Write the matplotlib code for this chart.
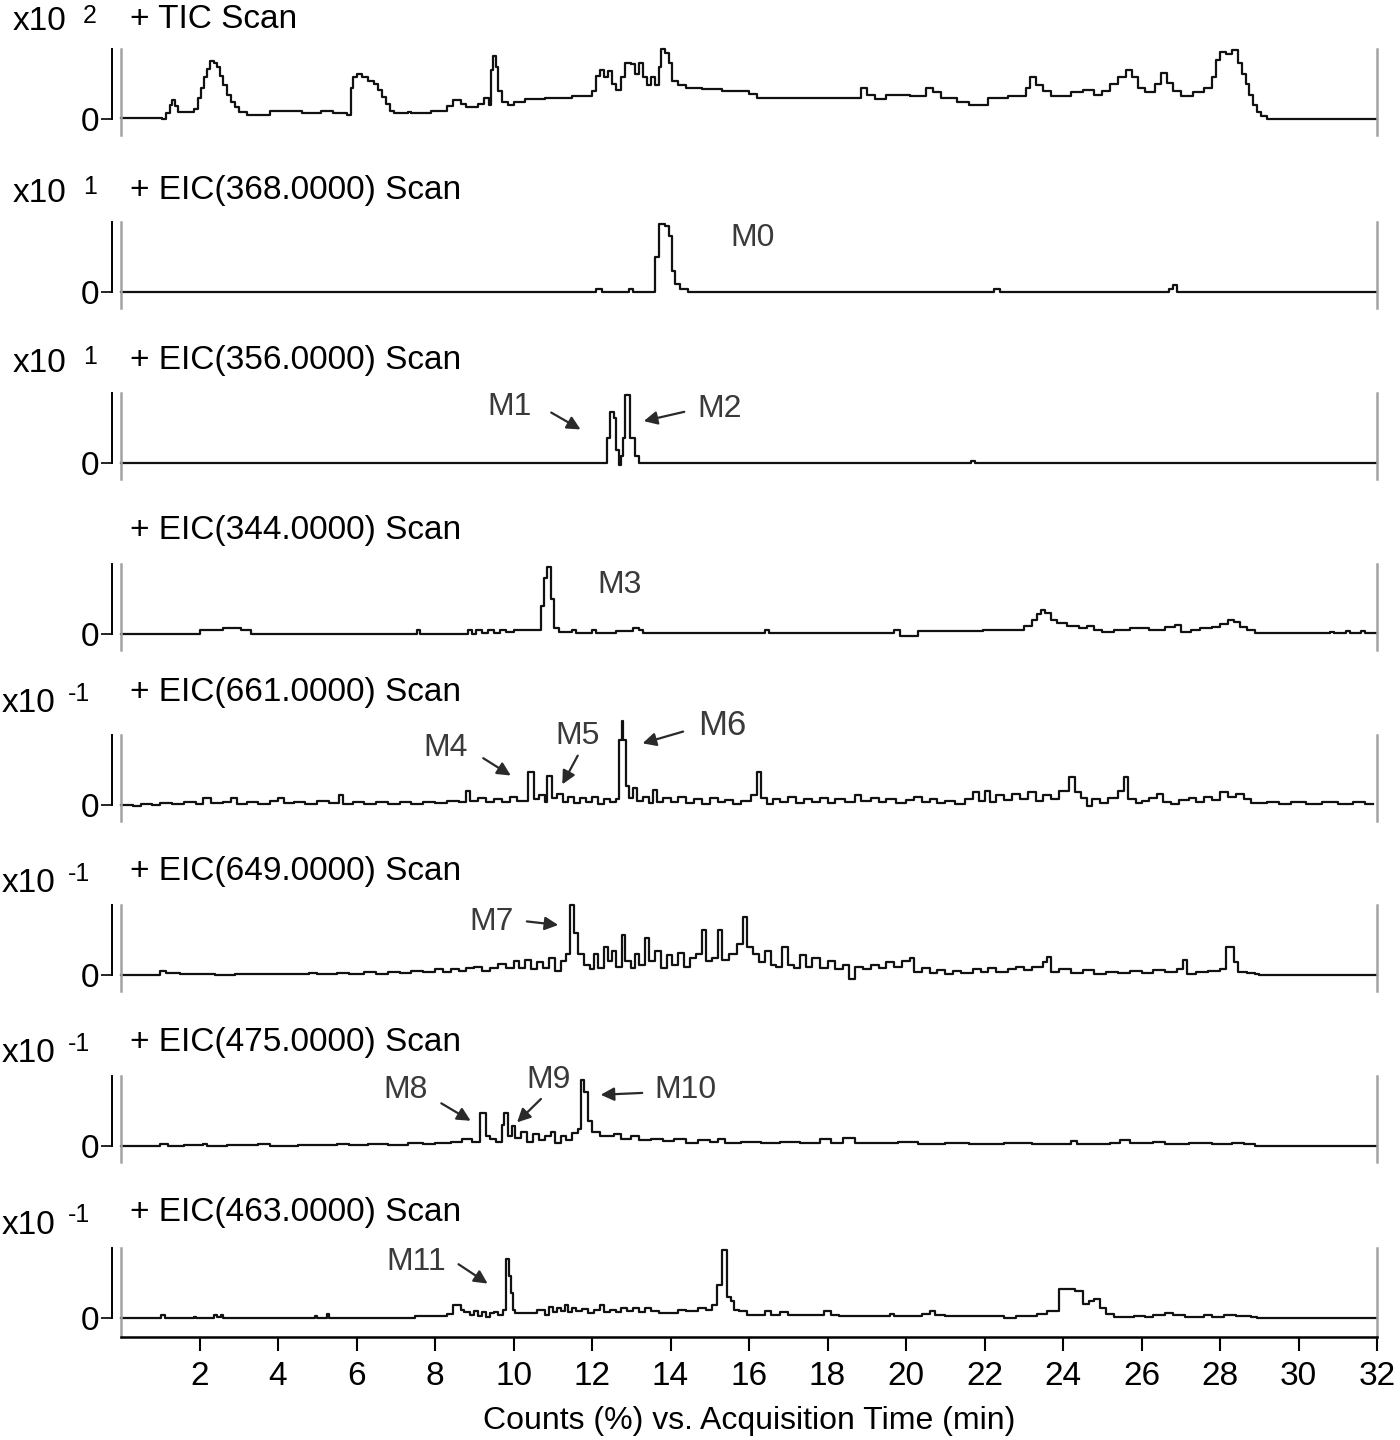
import matplotlib
matplotlib.use("Agg")
import matplotlib.pyplot as plt

plt.rcParams['font.family'] = ['Liberation Sans', 'DejaVu Sans']

# ---------------------------------------------------------------
# traces, (time in min, relative counts)
# ---------------------------------------------------------------
tic = [(0, .02), (1.05, 0), (1.15, .08), (1.25, .2), (1.3, .27), (1.38, .18), (1.45, .1), (1.7, .1),
       (1.85, .15), (1.95, .3), (2.05, .45), (2.12, .6), (2.2, .72), (2.28, .83), (2.38, .8), (2.45, .75),
       (2.52, .62), (2.6, .48), (2.7, .35), (2.8, .25), (2.9, .17), (3.0, .1), (3.2, .06), (3.5, .06),
       (3.8, .12), (4.6, .09), (5.1, .12), (5.4, .09), (5.75, .06), (5.85, .45), (5.9, .6), (6.0, .64),
       (6.15, .6), (6.3, .55), (6.45, .5), (6.55, .42), (6.65, .32), (6.75, .22), (6.85, .12), (6.95, .08),
       (7.3, .1), (7.4, .08), (7.9, .12), (8.3, .18), (8.45, .27), (8.65, .22), (8.8, .17), (9.1, .22),
       (9.25, .3), (9.38, .2), (9.42, .7), (9.48, .9), (9.55, .75), (9.6, .4), (9.7, .25), (9.85, .2),
       (10.0, .25), (10.3, .28), (10.8, .3), (11.5, .33), (12.0, .4), (12.1, .62), (12.2, .7), (12.3, .6),
       (12.4, .68), (12.5, .5), (12.6, .42), (12.75, .6), (12.85, .8), (13.0, .78), (13.1, .65), (13.2, .8),
       (13.3, .6), (13.4, .48), (13.5, .6), (13.6, .48), (13.7, .75), (13.75, 1.0), (13.85, .95), (13.95, .8),
       (14.05, .55), (14.2, .48), (14.4, .45), (14.8, .43), (15.3, .4), (16.0, .36), (16.2, .3), (18.85, .45),
       (19.0, .35), (19.2, .28), (19.5, .35), (20.1, .33), (20.5, .45), (20.7, .38), (20.9, .3), (21.3, .25),
       (21.6, .2), (22.1, .3), (22.6, .33), (23.05, .45), (23.15, .6), (23.3, .48), (23.5, .4), (23.7, .33),
       (24.2, .38), (24.5, .42), (24.8, .35), (25.0, .4), (25.2, .5), (25.4, .6), (25.6, .7), (25.75, .6),
       (25.9, .45), (26.1, .38), (26.35, .5), (26.5, .66), (26.65, .52), (26.8, .4), (27.0, .33), (27.3, .38),
       (27.6, .45), (27.8, .6), (27.9, .85), (28.0, .96), (28.15, .93), (28.3, .98), (28.45, .8), (28.55, .65),
       (28.65, .5), (28.75, .35), (28.85, .2), (28.95, .1), (29.05, .04), (29.2, 0), (32, 0)]

eic368 = [(0, 0), (12.1, .04), (12.25, 0), (12.95, .04), (13.05, 0), (13.6, .5), (13.7, .97), (13.85, .95),
          (13.95, .8), (14.05, .3), (14.12, .12), (14.25, .05), (14.45, 0), (22.25, .04), (22.4, 0),
          (26.7, .05), (26.8, .1), (26.9, 0), (32, 0)]

eic356 = [(0, 0), (12.38, .36), (12.45, .73), (12.55, .65), (12.6, .19), (12.68, -.03), (12.75, .1),
          (12.8, .36), (12.85, .97), (12.98, .36), (13.1, .1), (13.2, 0), (21.65, .03), (21.75, 0), (32, 0)]

eic344 = [(0, 0), (2.0, .05), (2.6, .09), (3.05, .05), (3.3, 0), (7.55, .05), (7.62, 0), (8.85, .05),
          (8.95, 0), (9.05, .05), (9.2, .02), (9.35, .06), (9.5, .02), (9.65, .05), (9.8, .03), (10.0, .05),
          (10.7, .4), (10.78, .8), (10.85, .96), (10.95, .5), (11.02, .08), (11.15, .03), (11.5, .05),
          (11.6, .02), (12.0, .05), (12.1, .02), (12.6, .04), (13.05, .09), (13.2, .05), (13.3, .02),
          (16.4, .05), (16.5, .02), (19.7, .05), (19.85, -.03), (20.3, .04), (21.95, .05), (22.0, .06),
          (23.0, .12), (23.2, .2), (23.35, .28), (23.45, .34), (23.55, .3), (23.7, .2), (23.85, .15),
          (24.1, .12), (24.4, .08), (24.6, .11), (24.8, .06), (25.0, .03), (25.3, .06), (25.7, .09),
          (26.2, .06), (26.6, .1), (26.85, .13), (27.0, .03), (27.25, .06), (27.5, .09), (27.8, .1),
          (28.0, .14), (28.2, .2), (28.35, .17), (28.5, .1), (28.7, .05), (28.9, .02), (30.8, .03),
          (30.9, .02), (31.2, .04), (31.3, .02), (31.6, .04), (31.7, .02), (32, .02)]

eic661 = [(0, 0), (.3, -.02), (.5, .02), (.8, 0), (1.0, .03), (1.3, .01), (1.6, .04), (1.9, .02), (2.1, .1),
          (2.3, .03), (2.6, .05), (2.8, .1), (2.95, .02), (3.2, .04), (3.5, .01), (3.8, .06), (4.0, .1),
          (4.15, .03), (4.4, .05), (4.7, .02), (5.0, .06), (5.3, .03), (5.55, .14), (5.65, .02), (5.9, .04),
          (6.2, .01), (6.5, .05), (6.8, .02), (7.1, .04), (7.4, .02), (7.7, .05), (8.0, .03), (8.3, .06),
          (8.6, .04), (8.8, .2), (8.9, .06), (9.1, .1), (9.3, .05), (9.5, .08), (9.7, .04), (9.9, .12),
          (10.1, .06), (10.38, .47), (10.52, .08), (10.65, .15), (10.8, .05), (10.85, .41), (10.97, .1),
          (11.1, .16), (11.25, .05), (11.4, .12), (11.55, .03), (11.7, .1), (11.85, .04), (12.0, .11),
          (12.15, .02), (12.3, .09), (12.45, .04), (12.6, .08), (12.7, .93), (12.76, 1.2), (12.8, .93),
          (12.86, .27), (12.95, .1), (13.05, .24), (13.15, .06), (13.3, .12), (13.45, .03), (13.55, .22),
          (13.65, .05), (13.8, .1), (14.0, .04), (14.2, .12), (14.4, .03), (14.6, .08), (14.8, .02),
          (15.0, .1), (15.2, .04), (15.4, .07), (15.6, .02), (15.8, .06), (16.05, .15), (16.2, .47),
          (16.3, .1), (16.45, .02), (16.6, .08), (16.8, .05), (17.0, .12), (17.2, .03), (17.4, .09),
          (17.6, .05), (17.8, .1), (18.0, .03), (18.2, .08), (18.45, .04), (18.7, .14), (18.85, .06),
          (19.1, .1), (19.3, .04), (19.5, .08), (19.75, .03), (20.0, .07), (20.2, .12), (20.4, .05),
          (20.6, .09), (20.8, .03), (21.0, .06), (21.25, .02), (21.5, .08), (21.7, .18), (21.85, .06),
          (22.0, .2), (22.15, .05), (22.3, .14), (22.5, .07), (22.7, .16), (22.9, .08), (23.1, .19),
          (23.3, .06), (23.5, .15), (23.7, .09), (23.9, .2), (24.15, .4), (24.3, .18), (24.45, .1),
          (24.6, -.02), (24.75, .08), (24.95, .03), (25.15, .1), (25.4, .2), (25.55, .4), (25.65, .08),
          (25.85, .03), (26.0, .06), (26.2, .1), (26.4, .16), (26.55, .05), (26.75, .01), (26.95, .07),
          (27.2, .1), (27.4, .05), (27.6, .12), (27.8, .07), (28.0, .18), (28.2, .12), (28.4, .16),
          (28.6, .08), (28.8, .03), (29.2, .05), (29.5, .02), (29.8, .04), (30.2, .01), (30.6, .04),
          (31.0, .02), (31.4, .05), (31.7, .01), (31.9, .02)]

eic649 = [(0, 0), (1.0, .06), (1.15, .03), (1.5, .01), (2.0, .02), (2.4, 0), (2.9, .02), (3.5, .01),
          (4.8, .03), (5.0, .01), (5.5, .03), (5.8, .01), (6.2, .04), (6.5, .02), (6.8, .05), (7.1, .03),
          (7.4, .06), (7.7, .04), (8.0, .08), (8.2, .05), (8.4, .09), (8.6, .06), (8.8, .1), (9.0, .12),
          (9.2, .06), (9.4, .1), (9.6, .16), (9.8, .1), (10.0, .2), (10.15, .1), (10.3, .22), (10.45, .08),
          (10.6, .18), (10.75, .1), (10.9, .24), (11.05, .06), (11.2, .2), (11.35, .3), (11.45, 1.0),
          (11.55, .6), (11.65, .3), (11.8, .15), (11.95, .08), (12.05, .3), (12.15, .1), (12.3, .4),
          (12.4, .2), (12.5, .35), (12.6, .12), (12.76, .57), (12.85, .2), (13.0, .1), (13.1, .3),
          (13.2, .15), (13.35, .53), (13.45, .2), (13.6, .35), (13.75, .1), (13.9, .28), (14.05, .15),
          (14.2, .32), (14.35, .12), (14.5, .25), (14.65, .3), (14.8, .65), (14.9, .2), (15.05, .25),
          (15.2, .64), (15.3, .22), (15.5, .3), (15.7, .45), (15.85, .83), (15.95, .4), (16.1, .3),
          (16.25, .18), (16.4, .35), (16.55, .15), (16.7, .12), (16.85, .4), (17.0, .15), (17.15, .1),
          (17.3, .28), (17.45, .12), (17.6, .25), (17.8, .1), (18.0, .2), (18.2, .08), (18.4, .15),
          (18.55, -.05), (18.7, .12), (18.9, .08), (19.1, .15), (19.3, .1), (19.5, .18), (19.7, .12),
          (19.9, .2), (20.1, .24), (20.2, .05), (20.4, .1), (20.6, .03), (20.8, .07), (21.0, .02),
          (21.2, .06), (21.4, .03), (21.7, .08), (21.9, .04), (22.1, .1), (22.3, .05), (22.6, .08),
          (22.8, .12), (23.0, .07), (23.2, .11), (23.5, .18), (23.6, .26), (23.7, .05), (23.9, .08),
          (24.2, .03), (24.5, .07), (24.8, .02), (25.1, .05), (25.4, .03), (25.7, .06), (26.0, .03),
          (26.3, .07), (26.6, .04), (26.9, .08), (27.05, .21), (27.15, .02), (27.4, .04), (27.7, .06),
          (28.0, .08), (28.15, .4), (28.35, .18), (28.45, .05), (28.7, .03), (28.9, .01), (29.0, 0), (32, 0)]

eic475 = [(0, 0), (1.0, .03), (1.2, 0), (1.6, .01), (2.1, .03), (2.2, 0), (2.7, .02), (3.1, .01), (3.5, .03),
          (3.8, 0), (4.5, .02), (5.2, .01), (5.5, .03), (5.8, .01), (6.3, .03), (6.8, .02), (7.3, .04),
          (7.7, .03), (8.0, .05), (8.4, .06), (8.7, .1), (8.95, .06), (9.15, .47), (9.3, .15), (9.4, .1),
          (9.55, .06), (9.7, .3), (9.77, .47), (9.85, .15), (9.95, .28), (10.05, .12), (10.2, .2),
          (10.35, .06), (10.5, .17), (10.65, .08), (10.8, .14), (10.95, .2), (11.05, .05), (11.2, .15),
          (11.35, .08), (11.5, .18), (11.65, .25), (11.72, .94), (11.8, .77), (11.9, .36), (12.0, .2),
          (12.2, .14), (12.55, .17), (12.75, .1), (13.0, .14), (13.2, .08), (13.5, .1), (13.8, .07),
          (14.1, .1), (14.4, .05), (14.7, .09), (15.0, .06), (15.2, .1), (15.4, .04), (15.8, .06),
          (16.3, .04), (16.8, .06), (17.3, .05), (17.8, .1), (18.1, .05), (18.4, .12), (18.7, .05),
          (19.2, .04), (19.8, .06), (20.3, .03), (21.0, .05), (21.6, .03), (22.5, .04), (23.2, .03),
          (24.2, .07), (24.35, .03), (25.2, .05), (25.45, .08), (25.7, .04), (26.3, .06), (26.6, .03),
          (27.2, .04), (27.8, .03), (28.3, .05), (28.6, .03), (28.9, 0), (32, 0)]

eic463 = [(0, 0), (1.02, .05), (1.12, 0), (1.85, .02), (1.9, 0), (2.37, .05), (2.45, .02), (2.55, .05),
          (2.6, 0), (4.95, .03), (5.0, 0), (5.25, .06), (5.3, 0), (7.5, .03), (8.3, .06), (8.45, .18),
          (8.65, .12), (8.75, .08), (8.9, .05), (9.0, .1), (9.1, .03), (9.2, .08), (9.3, .02), (9.4, .07),
          (9.5, .09), (9.6, .04), (9.72, .12), (9.8, .85), (9.88, .6), (9.93, .36), (9.98, .12),
          (10.05, .07), (10.6, .12), (10.8, .05), (10.9, .16), (11.0, .08), (11.1, .14), (11.2, .1),
          (11.3, .18), (11.4, .08), (11.5, .14), (11.6, .1), (11.75, .13), (11.9, .07), (12.05, .12),
          (12.2, .18), (12.3, .08), (12.45, .12), (12.6, .09), (12.75, .14), (12.9, .1), (13.05, .15),
          (13.2, .08), (13.35, .14), (13.5, .1), (13.7, .07), (14.2, .12), (14.4, .1), (14.7, .14),
          (14.9, .12), (15.05, .18), (15.18, .47), (15.3, .97), (15.45, .3), (15.55, .25), (15.62, .12),
          (15.75, .1), (15.95, .05), (16.4, .1), (16.55, .05), (16.8, .09), (17.0, .05), (17.9, .1),
          (18.1, .05), (18.3, .03), (19.6, .06), (19.7, .03), (20.4, .06), (20.6, .1), (20.75, .05),
          (21.0, .03), (22.5, 0), (22.8, .03), (23.35, .06), (23.6, .1), (23.9, .42), (24.3, .38),
          (24.5, .2), (24.65, .25), (24.8, .27), (24.95, .15), (25.1, .06), (25.3, .02), (25.8, .03),
          (26.1, .01), (26.3, .05), (26.6, .07), (26.8, .05), (27.1, .02), (27.6, .04), (27.8, .01),
          (28.1, .04), (28.4, .03), (28.8, .01), (28.95, 0), (32, 0)]

traces = [tic, eic368, eic356, eic344, eic661, eic649, eic475, eic463]
titles = ['+ TIC Scan', '+ EIC(368.0000) Scan', '+ EIC(356.0000) Scan', '+ EIC(344.0000) Scan',
          '+ EIC(661.0000) Scan', '+ EIC(649.0000) Scan', '+ EIC(475.0000) Scan', '+ EIC(463.0000) Scan']
exponents = ['2', '1', '1', None, '-1', '-1', '-1', '-1']

# labels: panel, text, text pos, arrow tail, arrow head
peak_labels = [
    (1, 'M0', (16.08, .77), None, None),
    (2, 'M1', (9.91, .8), (10.9, .74), (11.77, .46)),
    (2, 'M2', (15.26, .77), (14.42, .74), (13.25, .59)),
    (3, 'M3', (12.71, .7), None, None),
    (4, 'M4', (8.28, .81), (9.17, .69), (9.99, .4)),
    (4, 'M5', (11.64, .99), (11.67, .74), (11.21, .26)),
    (4, 'M6', (15.31, 1.13), (14.39, 1.06), (13.22, .87)),
    (5, 'M7', (9.45, .76), (10.27, .77), (11.21, .71)),
    (6, 'M8', (7.26, .8), (8.1, .63), (8.97, .34)),
    (6, 'M9', (10.9, .94), (10.75, .7), (10.04, .31)),
    (6, 'M10', (14.39, .8), (13.35, .76), (12.15, .73)),
    (7, 'M11', (7.52, .8), (8.54, .79), (9.4, .47)),
]

x_ticks = list(range(2, 33, 2))

# ---------------------------------------------------------------
W, H = 1400, 1440
fig = plt.figure(figsize=(W / 100, H / 100), dpi=100)

zero_px = [119, 292, 463, 634, 805, 975, 1146, 1318]
title_px = [19, 190, 360, 530, 692, 872, 1042, 1213]
x0_px, x1_px = 121, 1377
scale_px = 70

for i, trace in enumerate(traces):
    z = zero_px[i]
    below = 19 if i == len(traces) - 1 else 16
    top_px = z - scale_px
    bot_px = z + below
    ax = fig.add_axes([x0_px / W, 1 - bot_px / H, (x1_px - x0_px) / W, (bot_px - top_px) / H])
    ax.set_xlim(0, 32)
    ax.set_ylim(-below / scale_px, 1.0)

    t = [p[0] for p in trace]
    v = [p[1] for p in trace]
    ax.plot(t, v, drawstyle='steps-post', color='#111111', lw=1.6, clip_on=False)

    ax.axvline(0, color='#a3a3a3', lw=1.8, clip_on=False)
    ax.axvline(32, color='#a3a3a3', lw=1.8, clip_on=False)

    for s in ['top', 'right']:
        ax.spines[s].set_visible(False)
    ax.spines['left'].set_position(('outward', 6.5))
    ax.spines['left'].set_bounds(0, 1.0)
    ax.spines['left'].set_linewidth(1.4)
    ax.set_yticks([0])
    ax.set_yticklabels(['0'])
    ax.tick_params(axis='y', length=8, width=1.2, labelsize=24, pad=1)

    if i == len(traces) - 1:
        ax.spines['bottom'].set_linewidth(1.8)
        ax.set_xticks(x_ticks)
        ax.tick_params(axis='x', length=10, width=1.5, labelsize=24, pad=7)
        ax.set_xlabel('Counts (%) vs. Acquisition Time (min)', fontsize=23, labelpad=10)
    else:
        ax.spines['bottom'].set_visible(False)
        ax.set_xticks([])

    ty = 1 - title_px[i] / H
    fig.text(130 / W, ty, titles[i], fontsize=24, ha='left', va='center')
    if exponents[i] == '-1':
        fig.text(2 / W, ty - 12 / H, 'x10', fontsize=24, ha='left', va='center')
        fig.text(68 / W, ty - 2 / H, '-1', fontsize=18, ha='left', va='center')
    elif exponents[i] is not None:
        fig.text(13 / W, ty - 3 / H, 'x10', fontsize=24, ha='left', va='center')
        fig.text(83 / W, ty + 3 / H, exponents[i], fontsize=18, ha='left', va='center')

    for panel, lab, pos, tail, head in peak_labels:
        if panel != i:
            continue
        fs = 25 if lab == 'M6' else 23
        ax.text(pos[0], pos[1], lab, fontsize=fs, color='#3a3a3a', ha='center', va='center')
        if tail is not None:
            ax.annotate('', xy=head, xytext=tail,
                        arrowprops=dict(arrowstyle='-|>', color='#2a2a2a', lw=1.6, mutation_scale=20),
                        annotation_clip=False)

fig.savefig('out.png', dpi=100)
